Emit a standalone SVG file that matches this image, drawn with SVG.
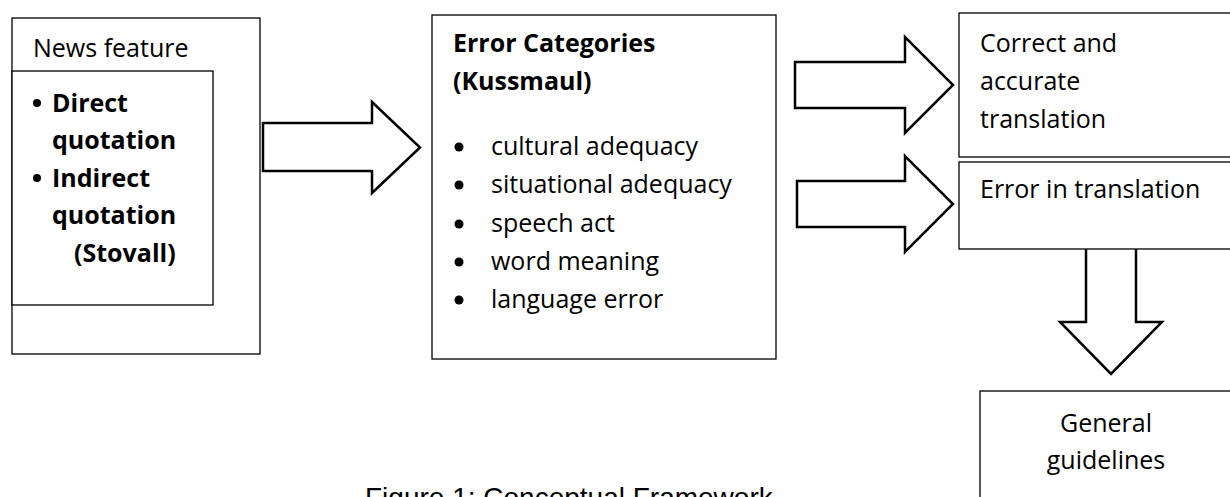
<svg xmlns="http://www.w3.org/2000/svg" width="1230" height="497" viewBox="0 0 1230 497">
<style>
.box{fill:#fff;stroke:#000;stroke-width:1.3}
.arr{fill:#fff;stroke:#000;stroke-width:2.5;stroke-linejoin:miter}
.t{font-family:"Open Sans","Noto Sans",sans-serif;font-size:25px;fill:#000}
.b{font-weight:bold}
.cap{font-family:"Liberation Sans",Arial,sans-serif;font-size:28px;fill:#000}
</style>
<rect width="1230" height="497" fill="#fff"/>
<g id="connectors">
<path class="arr" d="M263,123 H372 V102 L420,147.5 L372,193 V171 H263 Z"/>
<path class="arr" d="M795,62 H905 V37 L953,85 L905,133 V108 H795 Z"/>
<path class="arr" d="M797,181 H905 V156 L953,204 L905,252 V227 H797 Z"/>
<path class="arr" d="M1086,246 H1136 V322 H1162 L1111,374 L1060,322 H1086 Z"/>
</g>
<g id="news-feature">
<rect class="box" x="12" y="18" width="248" height="336"/>
<text class="t" x="33" y="57">News feature</text>
</g>
<g id="quotations">
<rect class="box" x="12" y="71" width="201" height="234"/>
<circle cx="37" cy="103" r="4"/>
<circle cx="37" cy="178" r="4"/>
<text class="t b" x="52" y="112">Direct</text>
<text class="t b" x="52" y="149">quotation</text>
<text class="t b" x="52" y="187">Indirect</text>
<text class="t b" x="52" y="224">quotation</text>
<text class="t b" x="74" y="262">(Stovall)</text>
</g>
<g id="error-categories">
<rect class="box" x="432" y="15" width="344" height="344"/>
<text class="t b" x="453" y="52">Error Categories</text>
<text class="t b" x="453" y="90">(Kussmaul)</text>
<circle cx="459" cy="147" r="4.5"/>
<circle cx="459" cy="185" r="4.5"/>
<circle cx="459" cy="224" r="4.5"/>
<circle cx="459" cy="262" r="4.5"/>
<circle cx="459" cy="300" r="4.5"/>
<text class="t" x="491" y="155">cultural adequacy</text>
<text class="t" x="491" y="193">situational adequacy</text>
<text class="t" x="491" y="232">speech act</text>
<text class="t" x="491" y="270">word meaning</text>
<text class="t" x="491" y="308">language error</text>
</g>
<g id="correct-translation">
<rect class="box" x="959" y="13" width="280" height="144"/>
<text class="t" x="980" y="52">Correct and</text>
<text class="t" x="980" y="90">accurate</text>
<text class="t" x="980" y="128">translation</text>
</g>
<g id="error-translation">
<rect class="box" x="959" y="162" width="280" height="87"/>
<text class="t" x="980" y="198">Error in translation</text>
</g>
<g id="guidelines">
<rect class="box" x="980" y="391" width="260" height="120"/>
<text class="t" x="1106" y="432" text-anchor="middle">General</text>
<text class="t" x="1106" y="469" text-anchor="middle">guidelines</text>
</g>
<text class="cap" x="365" y="507">Figure 1: Conceptual Framework</text>
</svg>
